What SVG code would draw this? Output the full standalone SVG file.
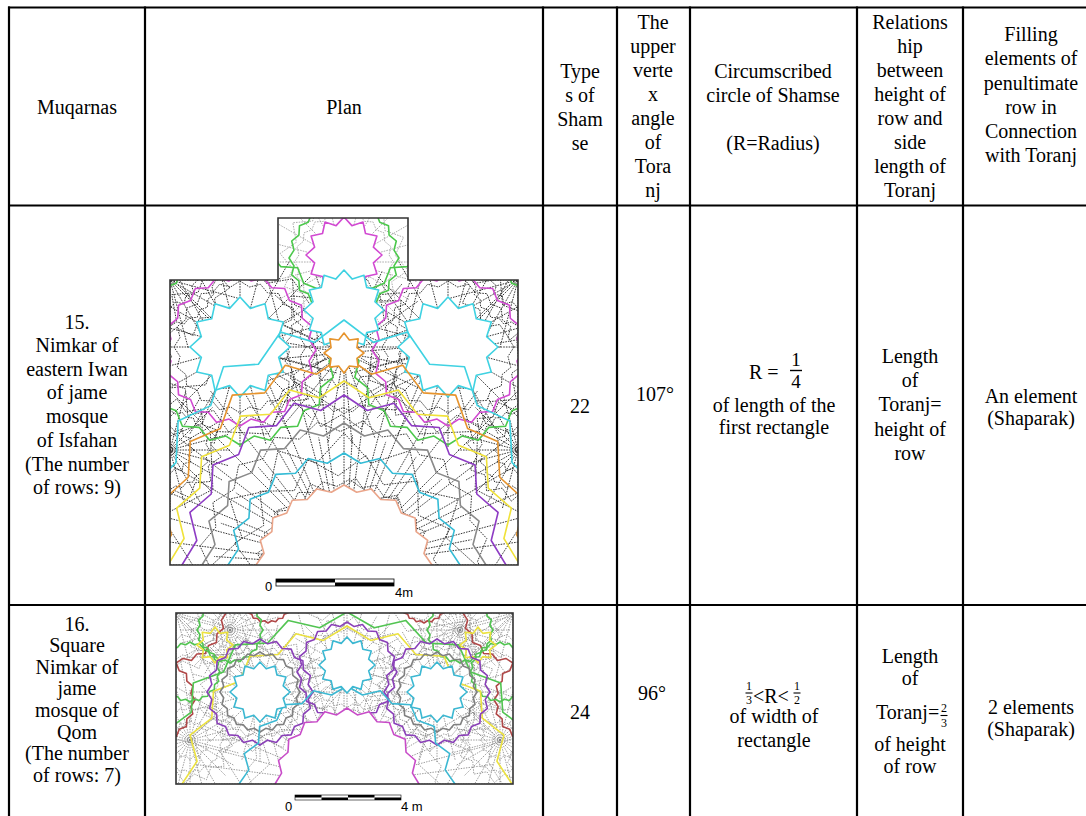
<svg xmlns="http://www.w3.org/2000/svg" xmlns:xlink="http://www.w3.org/1999/xlink" width="1086" height="816" viewBox="0 0 1086 816">
<style>
.t{font-family:'Liberation Serif',Tinos,'Times New Roman','Noto Serif','DejaVu Serif',serif;font-size:20px;fill:#000;text-anchor:middle}
.s{font-family:'Liberation Sans',Arimo,Arial,sans-serif;font-size:13px;fill:#000}
.grid line{stroke:#000;stroke-width:2.2}
.web1{fill:none;stroke:#222;stroke-width:0.9;stroke-dasharray:1.6 1.1}
.web1n{fill:none;stroke:#999;stroke-width:0.8;stroke-dasharray:1.6 1.1}
.web2{fill:none;stroke:#808080;stroke-width:0.8;stroke-dasharray:1.4 1.2}
.c{fill:none;stroke-width:1.6;stroke-linejoin:round}
.w{fill:#fff;stroke-width:1.6;stroke-linejoin:round}
.outline{fill:none;stroke:#333;stroke-width:1.6}
</style>
<defs>
<polygon id="zigp" vector-effect="non-scaling-stroke" points="100,0 90.87,14.39 95.11,30.9 81.97,41.77 80.9,58.78 65.05,65.05 58.78,80.9 41.77,81.97 30.9,95.11 14.39,90.87 0,100 -14.39,90.87 -30.9,95.11 -41.77,81.97 -58.78,80.9 -65.05,65.05 -80.9,58.78 -81.97,41.77 -95.11,30.9 -90.87,14.39 -100,0 -90.87,-14.39 -95.11,-30.9 -81.97,-41.77 -80.9,-58.78 -65.05,-65.05 -58.78,-80.9 -41.77,-81.97 -30.9,-95.11 -14.39,-90.87 0,-100 14.39,-90.87 30.9,-95.11 41.77,-81.97 58.78,-80.9 65.05,-65.05 80.9,-58.78 81.97,-41.77 95.11,-30.9 90.87,-14.39"/>
<polygon id="starp" vector-effect="non-scaling-stroke" points="100,0 77.27,20.7 86.6,50 56.57,56.57 50,86.6 20.7,77.27 0,100 -20.7,77.27 -50,86.6 -56.57,56.57 -86.6,50 -77.27,20.7 -100,0 -77.27,-20.7 -86.6,-50 -56.57,-56.57 -50,-86.6 -20.7,-77.27 0,-100 20.7,-77.27 50,-86.6 56.57,-56.57 86.6,-50 77.27,-20.7"/>
<polygon id="star8" vector-effect="non-scaling-stroke" points="100,0 64.67,26.79 70.71,70.71 26.79,64.67 0,100 -26.79,64.67 -70.71,70.71 -64.67,26.79 -100,0 -64.67,-26.79 -70.71,-70.71 -26.79,-64.67 0,-100 26.79,-64.67 70.71,-70.71 64.67,-26.79"/>
<g id="web">
<path vector-effect="non-scaling-stroke" d="M100 0L-100 0M96.59 25.88L-96.59 -25.88M86.6 50L-86.6 -50M70.71 70.71L-70.71 -70.71M50 86.6L-50 -86.6M25.88 96.59L-25.88 -96.59M0 100L0 -100M-25.88 96.59L25.88 -96.59M-50 86.6L50 -86.6M-70.71 70.71L70.71 -70.71M-86.6 50L86.6 -50M-96.59 25.88L96.59 -25.88"/>
<use xlink:href="#zigp" transform="scale(0.66)"/>
<use xlink:href="#starp" transform="rotate(7.5) scale(0.86)"/>
<use xlink:href="#starp" transform="scale(0.4)"/>
</g>
<clipPath id="clip1"><polygon points="170,565 170,280 278,280 278,218 408,218 408,280 518,280 518,565"/></clipPath>
<clipPath id="clip2"><rect x="176" y="613" width="337" height="171"/></clipPath>
</defs>

<g id="table-grid" class="grid">
<line x1="8" y1="7.5" x2="1086" y2="7.5"/>
<line x1="8" y1="205.5" x2="1086" y2="205.5"/>
<line x1="8" y1="605" x2="1086" y2="605"/>
<line x1="9" y1="6.4" x2="9" y2="816"/>
<line x1="145" y1="6.4" x2="145" y2="816"/>
<line x1="543" y1="6.4" x2="543" y2="816"/>
<line x1="617" y1="6.4" x2="617" y2="816"/>
<line x1="690" y1="6.4" x2="690" y2="816"/>
<line x1="857" y1="6.4" x2="857" y2="816"/>
<line x1="963" y1="6.4" x2="963" y2="816"/>
</g>

<g id="header">
<text class="t" x="77" y="114">Muqarnas</text>
<text class="t" x="344" y="114">Plan</text>
<text class="t" x="580" y="78">Type</text>
<text class="t" x="580" y="102">s of</text>
<text class="t" x="580" y="126">Sham</text>
<text class="t" x="580" y="150">se</text>
<text class="t" x="653" y="29">The</text>
<text class="t" x="653" y="53">upper</text>
<text class="t" x="653" y="77">verte</text>
<text class="t" x="653" y="101">x</text>
<text class="t" x="653" y="125">angle</text>
<text class="t" x="653" y="149">of</text>
<text class="t" x="653" y="173">Tora</text>
<text class="t" x="653" y="197">nj</text>
<text class="t" x="773" y="78">Circumscribed</text>
<text class="t" x="773" y="102">circle of Shamse</text>
<text class="t" x="773" y="150">(R=Radius)</text>
<text class="t" x="910" y="29">Relations</text>
<text class="t" x="910" y="53">hip</text>
<text class="t" x="910" y="77">between</text>
<text class="t" x="910" y="101">height of</text>
<text class="t" x="910" y="125">row and</text>
<text class="t" x="910" y="149">side</text>
<text class="t" x="910" y="173">length of</text>
<text class="t" x="910" y="197">Toranj</text>
<text class="t" x="1031" y="41">Filling</text>
<text class="t" x="1031" y="65">elements of</text>
<text class="t" x="1031" y="90">penultimate</text>
<text class="t" x="1031" y="114">row in</text>
<text class="t" x="1031" y="138">Connection</text>
<text class="t" x="1031" y="162">with Toranj</text>
</g>

<g id="row1-name">
<text class="t" x="77" y="329">15.</text>
<text class="t" x="77" y="352">Nimkar of</text>
<text class="t" x="77" y="376">eastern Iwan</text>
<text class="t" x="77" y="399">of jame</text>
<text class="t" x="77" y="423">mosque</text>
<text class="t" x="77" y="447">of Isfahan</text>
<text class="t" x="77" y="471">(The number</text>
<text class="t" x="77" y="494">of rows: 9)</text>
</g>

<g id="row1-plan">
<g clip-path="url(#clip1)">
<g class="web1">
<use xlink:href="#web" transform="translate(344 565) scale(3.3)"/>
<use xlink:href="#web" transform="translate(344 565) rotate(7.5) scale(2.2)"/>
<use xlink:href="#web" transform="translate(344 565) rotate(3.75) scale(1.3)"/>
<use xlink:href="#web" transform="translate(240 347) scale(1.0)"/>
<use xlink:href="#web" transform="translate(448 347) scale(1.0)"/>
<use xlink:href="#web" transform="translate(170 280) scale(0.7)"/>
<use xlink:href="#web" transform="translate(518 280) scale(0.7)"/>
<use xlink:href="#web" transform="translate(170 450) scale(0.6)"/>
<use xlink:href="#web" transform="translate(518 450) scale(0.6)"/>
<use xlink:href="#web" transform="translate(344 353) rotate(10) scale(0.9)"/>
</g>
<g class="web1n">
<use xlink:href="#web" transform="translate(344 262) scale(0.75)"/>
</g>
<use class="c" stroke="#4cc84c" xlink:href="#zigp" transform="translate(240 347) scale(0.98)"/>
<use class="c" stroke="#4cc84c" xlink:href="#zigp" transform="translate(448 347) scale(0.98)"/>
<use class="c" stroke="#4cc84c" xlink:href="#zigp" transform="translate(344 258) scale(0.55)"/>
<use class="c" stroke="#d24ad2" xlink:href="#zigp" transform="translate(240 350) scale(0.76)"/>
<use class="c" stroke="#d24ad2" xlink:href="#zigp" transform="translate(448 350) scale(0.76)"/>
<use class="w" stroke="#d24ad2" xlink:href="#starp" transform="translate(344 255) scale(0.38)"/>
<use class="w" stroke="#3fd2e2" xlink:href="#starp" transform="translate(240 347) scale(0.5)"/>
<use class="w" stroke="#3fd2e2" xlink:href="#starp" transform="translate(448 347) scale(0.5)"/>
<use class="w" stroke="#3fd2e2" xlink:href="#starp" transform="translate(344 310) scale(0.4)"/>
<use class="c" stroke="#3fd2e2" xlink:href="#zigp" transform="translate(344 565) scale(2.05 2.45)"/>
<use class="c" stroke="#e6942e" xlink:href="#zigp" transform="translate(344 565) scale(1.9 2.1)"/>
<use class="w" stroke="#e6942e" xlink:href="#star8" transform="translate(344 353) scale(0.2)"/>
<use class="c" stroke="#f0e23a" xlink:href="#zigp" transform="translate(344 565) scale(1.76 1.84)"/>
<use class="c" stroke="#8e3cc4" xlink:href="#zigp" transform="translate(344 565) scale(1.62 1.7)"/>
<use class="c" stroke="#8a8a8a" xlink:href="#zigp" transform="translate(344 565) scale(1.42 1.42)"/>
<use class="c" stroke="#35bcd6" xlink:href="#zigp" transform="translate(344 565) scale(1.16 1.12)"/>
<use class="w" stroke="#eaa58a" xlink:href="#zigp" transform="translate(344 565) scale(0.88 0.8)"/>
</g>
<polygon class="outline" points="170,565 170,280 278,280 278,218 408,218 408,280 518,280 518,565"/>
<g id="scale1">
<rect x="276" y="579" width="118" height="7" fill="#fff" stroke="#000" stroke-width="0.8"/>
<rect x="276" y="579" width="59" height="3.5" fill="#000"/>
<rect x="335" y="582.5" width="59" height="3.5" fill="#000"/>
<text class="s" x="265" y="591">0</text>
<text class="s" x="395" y="597">4m</text>
</g>
</g>

<g id="row1-data">
<text class="t" x="580" y="413">22</text>
<text class="t" x="655" y="401">107°</text>
<text class="t" x="749" y="379" style="text-anchor:start">R =</text>
<text class="t" x="796" y="366" style="font-size:19px">1</text>
<line x1="790" y1="370.5" x2="802" y2="370.5" stroke="#000" stroke-width="1.4"/>
<text class="t" x="796" y="388" style="font-size:19px">4</text>
<text class="t" x="774" y="412">of length of the</text>
<text class="t" x="774" y="434">first rectangle</text>
<text class="t" x="910" y="363">Length</text>
<text class="t" x="910" y="387">of</text>
<text class="t" x="910" y="411">Toranj=</text>
<text class="t" x="910" y="436">height of</text>
<text class="t" x="910" y="460">row</text>
<text class="t" x="1031" y="403">An element</text>
<text class="t" x="1031" y="425">(Shaparak)</text>
</g>

<g id="row2-name">
<text class="t" x="77" y="631">16.</text>
<text class="t" x="77" y="652">Square</text>
<text class="t" x="77" y="674">Nimkar of</text>
<text class="t" x="77" y="695">jame</text>
<text class="t" x="77" y="717">mosque of</text>
<text class="t" x="77" y="739">Qom</text>
<text class="t" x="77" y="760">(The number</text>
<text class="t" x="77" y="782">of rows: 7)</text>
</g>

<g id="row2-plan">
<g clip-path="url(#clip2)">
<g class="web2">
<use xlink:href="#web" transform="translate(344 784) scale(2.4)"/>
<use xlink:href="#web" transform="translate(344 784) rotate(7.5) scale(1.5)"/>
<use xlink:href="#web" transform="translate(260 692) scale(0.7)"/>
<use xlink:href="#web" transform="translate(437 692) scale(0.7)"/>
<use xlink:href="#web" transform="translate(347 668) scale(0.6)"/>
<use xlink:href="#web" transform="translate(176 613) scale(0.7)"/>
<use xlink:href="#web" transform="translate(513 613) scale(0.7)"/>
<use xlink:href="#web" transform="translate(230 630) scale(0.5)"/>
<use xlink:href="#web" transform="translate(460 630) scale(0.5)"/>
<use xlink:href="#web" transform="translate(190 740) scale(0.5)"/>
<use xlink:href="#web" transform="translate(500 740) scale(0.5)"/>
</g>
<use class="c" stroke="#b04848" xlink:href="#zigp" transform="translate(176 613) scale(0.5)"/>
<use class="c" stroke="#b04848" xlink:href="#zigp" transform="translate(513 613) scale(0.5)"/>
<use class="c" stroke="#b04848" xlink:href="#zigp" transform="translate(150 700) scale(0.45)"/>
<use class="c" stroke="#b04848" xlink:href="#zigp" transform="translate(539 700) scale(0.45)"/>
<use class="c" stroke="#b04848" xlink:href="#zigp" transform="translate(268 598) scale(0.25)"/>
<use class="c" stroke="#b04848" xlink:href="#zigp" transform="translate(424 598) scale(0.25)"/>
<use class="c" stroke="#52c452" xlink:href="#zigp" transform="translate(347 784) scale(1.9 1.72)"/>
<use class="c" stroke="#52c452" xlink:href="#zigp" transform="translate(230 630) scale(0.33)"/>
<use class="c" stroke="#52c452" xlink:href="#zigp" transform="translate(460 630) scale(0.33)"/>
<use class="c" stroke="#52c452" xlink:href="#zigp" transform="translate(190 672) scale(0.3)"/>
<use class="c" stroke="#52c452" xlink:href="#zigp" transform="translate(500 672) scale(0.3)"/>
<use class="c" stroke="#ece240" xlink:href="#zigp" transform="translate(347 784) scale(1.65 1.58)"/>
<use class="c" stroke="#ece240" xlink:href="#star8" transform="translate(215 645) scale(0.18)"/>
<use class="c" stroke="#ece240" xlink:href="#star8" transform="translate(478 645) scale(0.18)"/>
<use class="c" stroke="#8a40b8" xlink:href="#zigp" transform="translate(260 692) scale(0.53)"/>
<use class="c" stroke="#8a40b8" xlink:href="#zigp" transform="translate(437 692) scale(0.53)"/>
<use class="c" stroke="#8a40b8" xlink:href="#zigp" transform="translate(347 672) scale(0.5)"/>
<use class="c" stroke="#808080" xlink:href="#zigp" transform="translate(260 692) scale(0.4)"/>
<use class="c" stroke="#808080" xlink:href="#zigp" transform="translate(437 692) scale(0.4)"/>
<use class="c" stroke="#3cb8d2" xlink:href="#zigp" transform="translate(347 784) scale(1.08 0.98)"/>
<use class="w" stroke="#3cb8d2" xlink:href="#starp" transform="translate(260 692) scale(0.3)"/>
<use class="w" stroke="#3cb8d2" xlink:href="#starp" transform="translate(437 692) scale(0.3)"/>
<use class="w" stroke="#3cb8d2" xlink:href="#starp" transform="translate(347 665) scale(0.28)"/>
<use class="w" stroke="#c84cc8" xlink:href="#zigp" transform="translate(347 784) scale(0.72 0.76)"/>
</g>
<rect class="outline" x="176" y="613" width="337" height="171"/>
<g id="scale2">
<rect x="295" y="795" width="106" height="5" fill="#fff" stroke="#000" stroke-width="0.6"/>
<rect x="295" y="795" width="26.5" height="2.5" fill="#000"/>
<rect x="321.5" y="797.5" width="26.5" height="2.5" fill="#000"/>
<rect x="348" y="795" width="26.5" height="2.5" fill="#000"/>
<rect x="374.5" y="797.5" width="26.5" height="2.5" fill="#000"/>
<text class="s" x="285" y="811">0</text>
<text class="s" x="401" y="811">4 m</text>
</g>
</g>

<g id="row2-data">
<text class="t" x="580" y="719">24</text>
<text class="t" x="652" y="700">96°</text>
<text class="t" x="749" y="690" style="font-size:12px">1</text>
<line x1="745.5" y1="693" x2="752.5" y2="693" stroke="#000" stroke-width="1.1"/>
<text class="t" x="749" y="704" style="font-size:12px">3</text>
<text class="t" x="753" y="703" style="text-anchor:start">&lt;R&lt;</text>
<text class="t" x="797" y="690" style="font-size:12px">1</text>
<line x1="793.5" y1="693" x2="800.5" y2="693" stroke="#000" stroke-width="1.1"/>
<text class="t" x="797" y="704" style="font-size:12px">2</text>
<text class="t" x="774" y="723">of width of</text>
<text class="t" x="774" y="747">rectangle</text>
<text class="t" x="910" y="663">Length</text>
<text class="t" x="910" y="685">of</text>
<text class="t" x="876" y="719" style="text-anchor:start">Toranj=</text>
<text class="t" x="944" y="712" style="font-size:12px">2</text>
<line x1="940.5" y1="715.5" x2="947.5" y2="715.5" stroke="#000" stroke-width="1.1"/>
<text class="t" x="944" y="727" style="font-size:12px">3</text>
<text class="t" x="910" y="751">of height</text>
<text class="t" x="910" y="773">of row</text>
<text class="t" x="1031" y="714">2 elements</text>
<text class="t" x="1031" y="736">(Shaparak)</text>
</g>
</svg>
